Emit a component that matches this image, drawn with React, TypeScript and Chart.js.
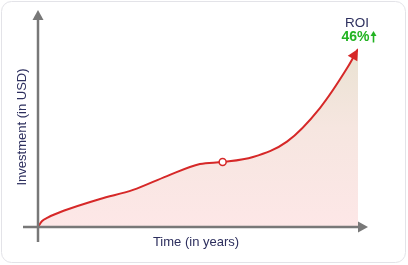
import React, { useEffect, useRef } from "react";
import { Chart, registerables } from "chart.js";

Chart.register(...registerables);

// Time (years) and investment value (relative units)
const years = [0, 0.12, 0.3, 0.8, 1.94, 2.97, 4.03, 5.06, 5.77, 6.72, 7.78, 8.81, 9.66, 10];
const investment = [0, 3.2, 5.2, 9.0, 15.6, 20.6, 28.3, 35, 36.1, 38.9, 47.4, 66.1, 88.3, 98.9];
const markerIndex = 8;
const xTitle = "Time (in years)";
const yTitle = "Investment (in USD)";
const roiLabel = "ROI";
const roiValue = "46%";

const FONT = "'Liberation Sans', Arial, Helvetica, sans-serif";
const NAVY = "#2d2f5e";
const GREEN = "#22b322";
const RED = "#d62828";
const AXIS = "#787878";

const decorPlugin = {
  id: "decor",
  beforeDraw(chart: any) {
    const ctx = chart.ctx;
    ctx.save();
    ctx.fillStyle = "#ffffff";
    ctx.fillRect(0, 0, chart.width, chart.height);
    ctx.beginPath();
    ctx.roundRect(1.5, 1.5, 404, 261, 10);
    ctx.strokeStyle = "#e3e3e8";
    ctx.lineWidth = 1;
    ctx.stroke();
    ctx.restore();
  },
  afterDatasetsDraw(chart: any) {
    const ctx = chart.ctx;
    const { left, right, bottom } = chart.chartArea;
    ctx.save();
    // axes
    ctx.strokeStyle = AXIS;
    ctx.fillStyle = AXIS;
    ctx.lineWidth = 2.5;
    ctx.beginPath();
    ctx.moveTo(left, 242);
    ctx.lineTo(left, 19);
    ctx.stroke();
    ctx.beginPath();
    ctx.moveTo(left, 10);
    ctx.lineTo(left - 5.5, 20);
    ctx.lineTo(left + 5.5, 20);
    ctx.closePath();
    ctx.fill();
    ctx.beginPath();
    ctx.moveTo(23, bottom);
    ctx.lineTo(right + 1, bottom);
    ctx.stroke();
    ctx.beginPath();
    ctx.moveTo(right + 10, bottom);
    ctx.lineTo(right, bottom - 5.5);
    ctx.lineTo(right, bottom + 5.5);
    ctx.closePath();
    ctx.fill();

    // arrow head at curve end
    const meta = chart.getDatasetMeta(0);
    const pts = meta.data;
    const last = pts[pts.length - 1];
    let dx = last.x - (last.cp1x ?? pts[pts.length - 2].x);
    let dy = last.y - (last.cp1y ?? pts[pts.length - 2].y);
    const len = Math.hypot(dx, dy) || 1;
    dx /= len;
    dy /= len;
    const L = 11;
    const W = 5.5;
    const bx = last.x - dx * L;
    const by = last.y - dy * L;
    ctx.fillStyle = RED;
    ctx.beginPath();
    ctx.moveTo(last.x, last.y);
    ctx.lineTo(bx - dy * W, by + dx * W);
    ctx.lineTo(bx + dy * W, by - dx * W);
    ctx.closePath();
    ctx.fill();

    // marker
    const mk = pts[markerIndex];
    ctx.beginPath();
    ctx.arc(mk.x, mk.y, 3.5, 0, Math.PI * 2);
    ctx.fillStyle = "#ffffff";
    ctx.fill();
    ctx.lineWidth = 1.5;
    ctx.strokeStyle = RED;
    ctx.stroke();

    // titles
    ctx.fillStyle = NAVY;
    ctx.font = `13px ${FONT}`;
    ctx.textAlign = "center";
    ctx.textBaseline = "middle";
    ctx.fillText(xTitle, 196, 242);
    ctx.save();
    ctx.translate(22, 127);
    ctx.rotate(-Math.PI / 2);
    ctx.fillText(yTitle, 0, 0);
    ctx.restore();

    ctx.font = `13.5px ${FONT}`;
    ctx.fillText(roiLabel, 357, 23);
    ctx.fillStyle = GREEN;
    ctx.font = `bold 14px ${FONT}`;
    ctx.fillText(roiValue, 355.5, 37.5);
    // small up arrow
    ctx.strokeStyle = GREEN;
    ctx.lineWidth = 1.6;
    ctx.beginPath();
    ctx.moveTo(373.5, 42.5);
    ctx.lineTo(373.5, 35);
    ctx.stroke();
    ctx.beginPath();
    ctx.moveTo(373.5, 31);
    ctx.lineTo(370.5, 36);
    ctx.lineTo(376.5, 36);
    ctx.closePath();
    ctx.fill();
    ctx.restore();
  },
};

export default function App() {
  const ref = useRef<HTMLCanvasElement | null>(null);
  useEffect(() => {
    if (!ref.current) return;
    const data = years.map((x, i) => ({ x, y: investment[i] }));
    const chart = new Chart(ref.current, {
      type: "line",
      data: {
        datasets: [
          {
            data,
            borderColor: RED,
            borderWidth: 2,
            pointRadius: 0,
            cubicInterpolationMode: "monotone",
            fill: "origin",
            backgroundColor: (c: any) => {
              const area = c.chart.chartArea;
              if (!area) return "#fde8e8";
              const g = c.chart.ctx.createLinearGradient(0, area.top, 0, area.bottom);
              g.addColorStop(0, "#e9e2d2");
              g.addColorStop(0.45, "#f6e6e0");
              g.addColorStop(1, "#fde7e7");
              return g;
            },
          },
        ],
      },
      options: {
        responsive: false,
        animation: false,
        devicePixelRatio: 1,
        layout: { padding: { left: 38, right: 50, top: 47, bottom: 38 } },
        scales: {
          x: { type: "linear", min: 0, max: 10, display: false },
          y: { min: 0, max: 100, display: false },
        },
        plugins: { legend: { display: false }, tooltip: { enabled: false } },
      } as any,
      plugins: [decorPlugin],
    });
    return () => chart.destroy();
  }, []);
  return (
    <div style={{ position: "fixed", left: 0, top: 0, width: 408, height: 265 }}>
      <canvas ref={ref} width={408} height={265} style={{ display: "block" }} />
    </div>
  );
}
